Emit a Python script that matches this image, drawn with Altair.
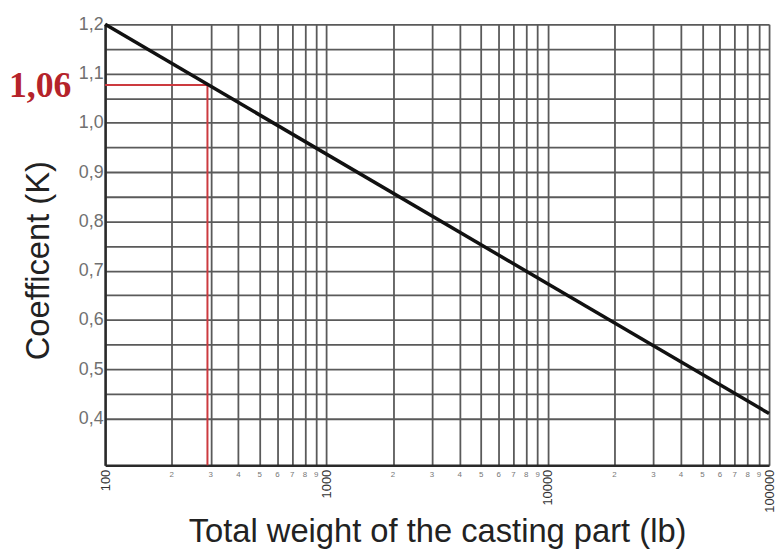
import altair as alt
import pandas as pd

# ---- data ----
line_weight = [100, 100000]
line_k = [1.2, 0.41]

red_weight = [100, 290, 290]
red_k = [1.077, 1.077, 0.305]
red_label = "1,06"

decades = [100, 1000, 10000, 100000]
minor_digits = [2, 3, 4, 5, 6, 7, 8, 9]
y_grid = [0.4, 0.45, 0.5, 0.55, 0.6, 0.65, 0.7, 0.75, 0.8, 0.85, 0.9, 0.95,
          1.0, 1.05, 1.1, 1.15, 1.2]
y_min, y_max = 0.305, 1.2

x_grid = sorted(decades + [d * m for d in decades[:-1] for m in minor_digits])
minor_vals = [d * m for d in decades[:-1] for m in minor_digits]
minor_text = [str(m) for d in decades[:-1] for m in minor_digits]

W, H = 670, 445

decade_test = " || ".join(f"datum.value == {d}" for d in decades)

x_enc = alt.X(
    "weight:Q",
    scale=alt.Scale(type="log", domain=[decades[0], decades[-1]], nice=False),
    axis=alt.Axis(
        values=x_grid,
        labelExpr=f"({decade_test}) ? format(datum.value, 'd') : ''",
        labelAngle=-90,
        labelFontSize=13,
        labelColor="#333333",
        labelFont="Liberation Sans",
        labelPadding=4,
        labelOverlap=False,
        labelFlush=False,
        ticks=False,
        domainColor="#2a2a2a",
        domainWidth=2.5,
        gridColor="#5a5a5a",
        gridWidth=1.8,
        title="Total weight of the casting part (lb)",
        titleFont="Liberation Sans",
        titleFontSize=33,
        titleFontWeight="normal",
        titleColor="#222222",
        titlePadding=4,
    ),
)

y_enc = alt.Y(
    "k:Q",
    scale=alt.Scale(domain=[y_min, y_max], nice=False, zero=False),
    axis=alt.Axis(
        values=y_grid,
        labelExpr="abs(datum.value * 10 - round(datum.value * 10)) < 0.001 ? replace(format(datum.value, '.1f'), '.', ',') : ''",
        labelFontSize=18,
        labelColor="#707070",
        labelFont="Liberation Sans",
        labelPadding=2,
        ticks=False,
        domainColor="#2a2a2a",
        domainWidth=2.5,
        gridColor="#5a5a5a",
        gridWidth=1.8,
        title="Coefficent (K)",
        titleFont="Liberation Sans",
        titleFontSize=33,
        titleFontWeight="normal",
        titleColor="#222222",
        titleX=-50,
        titleY=238,
        titleAlign="center",
    ),
)

line_df = pd.DataFrame({"weight": line_weight, "k": line_k})
red_df = pd.DataFrame({"weight": red_weight, "k": red_k, "order": [0, 1, 2]})
label_df = pd.DataFrame({"weight": [red_weight[0]], "k": [red_k[0]], "t": [red_label]})
minor_df = pd.DataFrame({"weight": minor_vals, "t": minor_text})

main = alt.Chart(line_df).mark_line(color="#111111", strokeWidth=3.5).encode(
    x=x_enc, y=y_enc
)

red = alt.Chart(red_df).mark_line(color="#cc3a3f", strokeWidth=2).encode(
    x=x_enc, y=y_enc, order="order:Q"
)

red_text = alt.Chart(label_df).mark_text(
    align="right", baseline="middle", dx=-34, dy=1,
    font="Liberation Serif", fontWeight="bold", fontSize=36, color="#b5232a"
).encode(x=x_enc, y=y_enc, text="t:N")

minor = alt.Chart(minor_df).mark_text(
    align="center", baseline="top", fontSize=8, color="#777777",
    font="Liberation Sans"
).encode(x=x_enc, y=alt.value(H + 6), text="t:N")

chart = alt.layer(red, main, red_text, minor).properties(
    width=W,
    height=H,
    autosize=alt.AutoSizeParams(type="none"),
    padding={"left": 98, "top": 14, "right": 7, "bottom": 86},
    background="white",
).configure_view(strokeWidth=0)

chart.save("out.html", embed_options={"renderer": "svg", "actions": False})
